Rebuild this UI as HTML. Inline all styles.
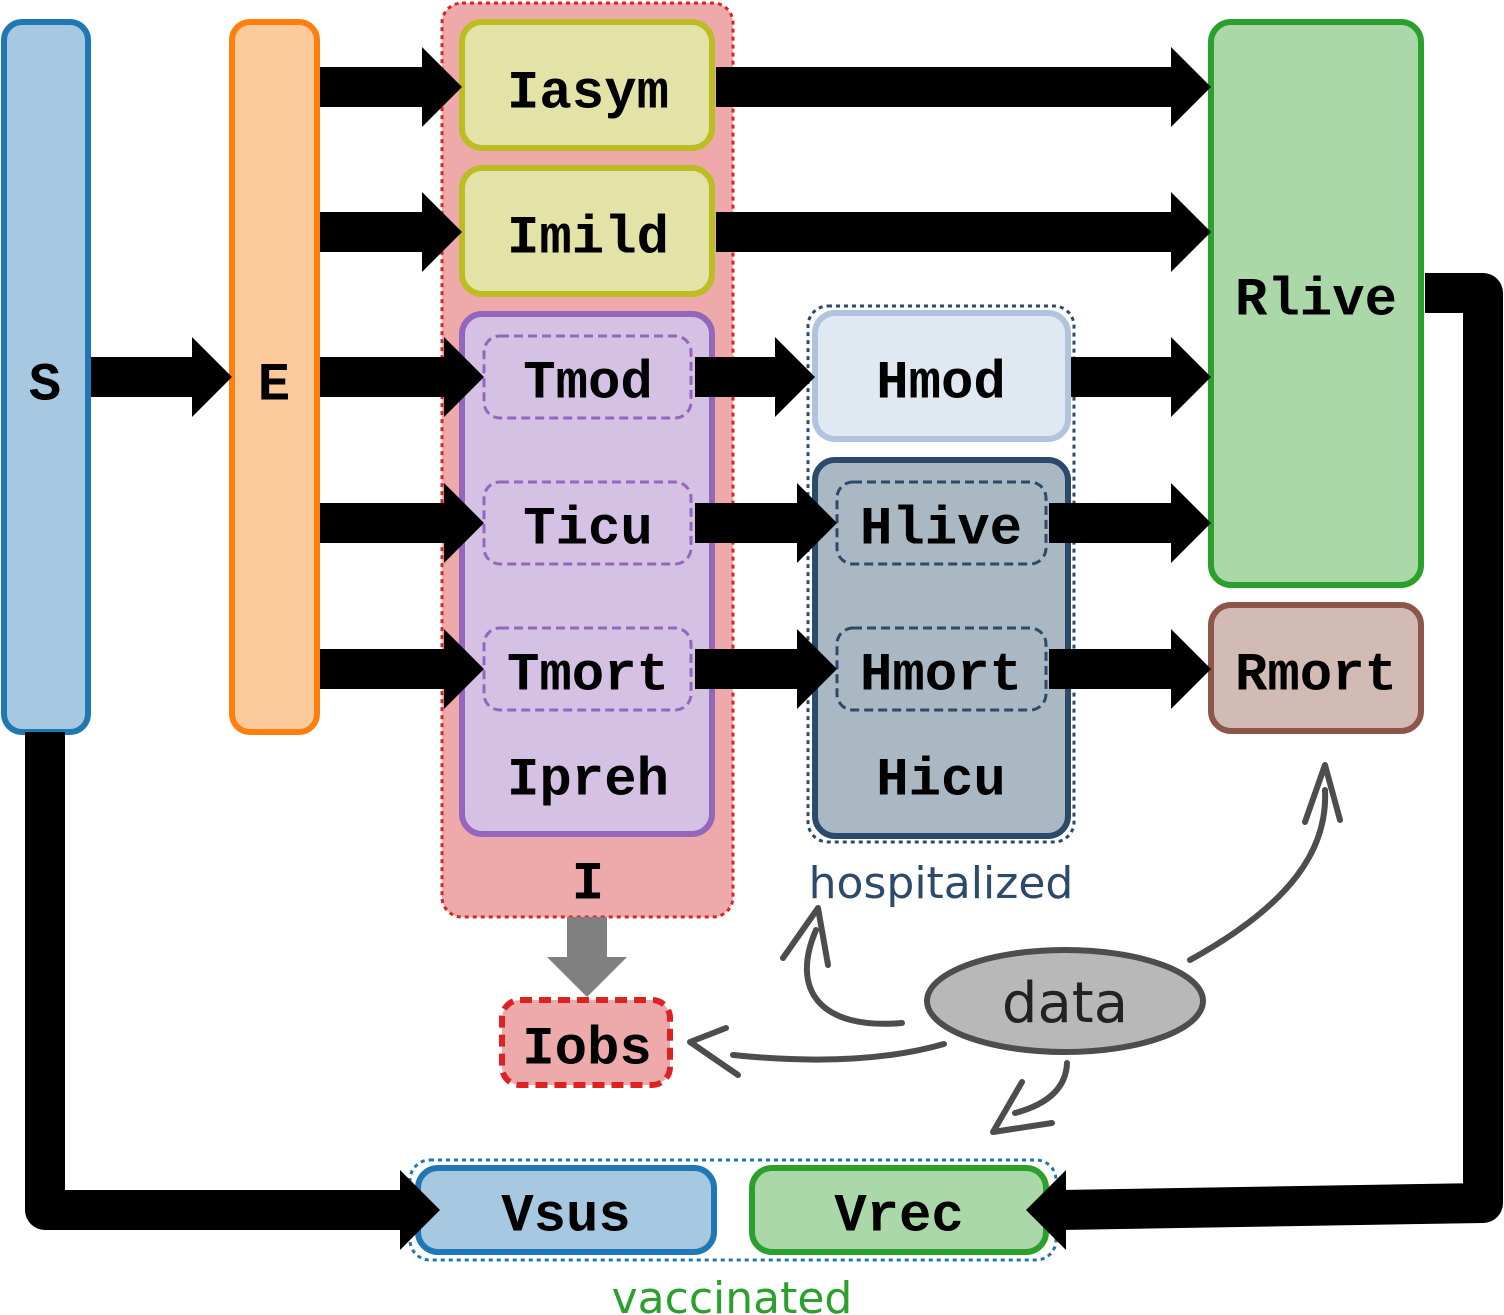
<!DOCTYPE html>
<html><head><meta charset="utf-8"><style>html,body{margin:0;padding:0;background:#fff}svg{display:block}</style></head>
<body>
<svg width="1504" height="1315" viewBox="0 0 1504 1315" xmlns="http://www.w3.org/2000/svg">
<defs>
<style>
.m{font-family:"Liberation Mono",monospace;font-weight:bold;font-size:54px;fill:#000;text-anchor:middle;dominant-baseline:central}
</style>
</defs>
<rect x="442" y="3" width="291" height="914" rx="20" fill="#eeaaaa" stroke="#dd2222" stroke-width="3" stroke-dasharray="4,4"/>
<rect x="808" y="306" width="266" height="536" rx="20" fill="none" stroke="#2c4a6b" stroke-width="3" stroke-dasharray="4,4"/>
<rect x="410" y="1160" width="646" height="100" rx="20" fill="none" stroke="#1f77b4" stroke-width="3" stroke-dasharray="4,4"/>

<rect x="4" y="22" width="84" height="710" rx="18" fill="#a6c8e0" stroke="#1f77b4" stroke-width="6"/>
<rect x="232" y="22" width="85" height="710" rx="18" fill="#fdca9b" stroke="#ff7f0e" stroke-width="6"/>
<rect x="462" y="22" width="250" height="126" rx="20" fill="#e3e3a8" stroke="#bcbd22" stroke-width="6"/>
<rect x="462" y="168" width="250" height="126" rx="20" fill="#e3e3a8" stroke="#bcbd22" stroke-width="6"/>
<rect x="462" y="314" width="250" height="520" rx="20" fill="#d4c1e4" stroke="#9467bd" stroke-width="6"/>
<rect x="484" y="336" width="207" height="82" rx="16" fill="none" stroke="#9467bd" stroke-width="3" stroke-dasharray="9,5"/>
<rect x="484" y="482" width="207" height="82" rx="16" fill="none" stroke="#9467bd" stroke-width="3" stroke-dasharray="9,5"/>
<rect x="484" y="628" width="207" height="82" rx="16" fill="none" stroke="#9467bd" stroke-width="3" stroke-dasharray="9,5"/>
<rect x="815" y="313" width="253" height="126" rx="20" fill="#e0e8f2" stroke="#b0c4de" stroke-width="6"/>
<rect x="815" y="460" width="253" height="376" rx="20" fill="#aab8c4" stroke="#2c4a6b" stroke-width="6"/>
<rect x="837" y="482" width="209" height="82" rx="16" fill="none" stroke="#2c4a6b" stroke-width="3" stroke-dasharray="9,5"/>
<rect x="837" y="628" width="209" height="82" rx="16" fill="none" stroke="#2c4a6b" stroke-width="3" stroke-dasharray="9,5"/>
<rect x="1211" y="22" width="210" height="563" rx="20" fill="#aad8a9" stroke="#2ca02c" stroke-width="6"/>
<rect x="1211" y="605" width="210" height="126" rx="20" fill="#d3bbb5" stroke="#8c564b" stroke-width="6"/>
<rect x="502" y="1000" width="168" height="85" rx="18" fill="#eeaaaa" stroke="#dd2222" stroke-width="6" stroke-dasharray="12,7"/>
<rect x="418" y="1168" width="296" height="84" rx="20" fill="#a6c8e0" stroke="#1f77b4" stroke-width="6"/>
<rect x="752" y="1168" width="294" height="84" rx="20" fill="#aad8a9" stroke="#2ca02c" stroke-width="6"/>

<polyline points="45,732 45,1210 410,1210" fill="none" stroke="#000" stroke-width="40" stroke-linejoin="round"/>
<polygon points="400,1170 440,1210 400,1250" fill="#000"/>
<polyline points="1425,293 1483,293 1483,1203 1060,1210" fill="none" stroke="#000" stroke-width="40" stroke-linejoin="round"/>
<polygon points="1066,1170 1026,1210 1066,1250" fill="#000"/>

<g fill="#000">
<polygon points="91,357 192,357 192,337 232,377 192,417 192,397 91,397"/>
<polygon points="320,67 422,67 422,47 462,87 422,127 422,107 320,107"/>
<polygon points="320,212 422,212 422,192 462,232 422,272 422,252 320,252"/>
<polygon points="320,357 444,357 444,337 484,377 444,417 444,397 320,397"/>
<polygon points="320,503 444,503 444,483 484,523 444,563 444,543 320,543"/>
<polygon points="320,649 444,649 444,629 484,669 444,709 444,689 320,689"/>
<polygon points="716,67 1171,67 1171,47 1211,87 1171,127 1171,107 716,107"/>
<polygon points="716,212 1171,212 1171,192 1211,232 1171,272 1171,252 716,252"/>
<polygon points="695,357 775,357 775,337 815,377 775,417 775,397 695,397"/>
<polygon points="695,503 797,503 797,483 837,523 797,563 797,543 695,543"/>
<polygon points="695,649 797,649 797,629 837,669 797,709 797,689 695,689"/>
<polygon points="1071,357 1171,357 1171,337 1211,377 1171,417 1171,397 1071,397"/>
<polygon points="1049,503 1171,503 1171,483 1211,523 1171,563 1171,543 1049,543"/>
<polygon points="1049,649 1171,649 1171,629 1211,669 1171,709 1171,689 1049,689"/>
</g>
<polygon points="567,917 607,917 607,957 627,957 587,997 547,957 567,957" fill="#808080"/>

<ellipse cx="1065" cy="1001" rx="138" ry="51" fill="#b8b8b8" stroke="#4d4d4d" stroke-width="6"/>
<g fill="none" stroke="#4d4d4d" stroke-width="6" stroke-linecap="round" stroke-linejoin="round">
<path d="M944,1044 Q860,1068 733,1055"/>
<polyline points="726,1028 690,1042 738,1075"/>
<path d="M902,1023 C820,1030 790,990 816,930"/>
<polyline points="783,958 818,908 828,965"/>
<path d="M1190,960 C1290,905 1328,850 1325,790"/>
<polyline points="1305,822 1325,765 1340,820"/>
<path d="M1067,1063 C1066,1090 1045,1105 1015,1113"/>
<polyline points="1022,1082 993,1132 1052,1123"/>
</g>

<text class="m" x="45" y="386">S</text>
<text class="m" x="274" y="386">E</text>
<text class="m" x="588" y="94">Iasym</text>
<text class="m" x="588" y="239">Imild</text>
<text class="m" x="588" y="384">Tmod</text>
<text class="m" x="588" y="530">Ticu</text>
<text class="m" x="588" y="676">Tmort</text>
<text class="m" x="588" y="781">Ipreh</text>
<text class="m" x="588" y="885">I</text>
<text class="m" x="941" y="384">Hmod</text>
<text class="m" x="941" y="530">Hlive</text>
<text class="m" x="941" y="676">Hmort</text>
<text class="m" x="941" y="781">Hicu</text>
<text class="m" x="1316" y="301">Rlive</text>
<text class="m" x="1316" y="676">Rmort</text>
<text class="m" x="587" y="1050">Iobs</text>
<text class="m" x="566" y="1217">Vsus</text>
<text class="m" x="899" y="1217">Vrec</text>
<text x="941" y="898" font-family="DejaVu Sans,sans-serif" font-size="44" fill="#2c4a6b" text-anchor="middle">hospitalized</text>
<text x="732" y="1313" font-family="DejaVu Sans,sans-serif" font-size="44" fill="#2ca02c" text-anchor="middle">vaccinated</text>
<text x="1065" y="1022" font-family="DejaVu Sans,sans-serif" font-size="56" fill="#222" text-anchor="middle">data</text>
</svg>
</body></html>
